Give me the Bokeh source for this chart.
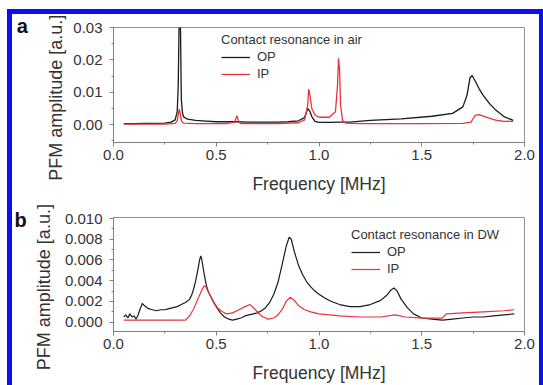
import math
from bokeh.plotting import figure
from bokeh.layouts import column
from bokeh.models import Range1d, FixedTicker, Legend, LegendItem, Label
from bokeh.embed import file_html
from bokeh.resources import INLINE

# ---------------- data: panel a (contact resonance in air) ----------------
a_op_freq = [0.05, 0.10, 0.15, 0.20, 0.25, 0.28, 0.30, 0.31, 0.315, 0.32, 0.325, 0.33, 0.335, 0.34,
             0.36, 0.40, 0.45, 0.50, 0.55, 0.60, 0.65, 0.70, 0.75, 0.80, 0.85, 0.90, 0.93, 0.945,
             0.955, 0.965, 0.98, 1.00, 1.05, 1.10, 1.15, 1.25, 1.40, 1.55, 1.65, 1.70, 1.72, 1.735,
             1.745, 1.76, 1.78, 1.80, 1.83, 1.86, 1.90, 1.945]
a_op_amp = [0.0003, 0.0003, 0.0004, 0.0004, 0.0005, 0.0008, 0.0015, 0.0040, 0.0120, 0.0350, 0.0350, 0.0080, 0.0040, 0.0025,
            0.0017, 0.0013, 0.0011, 0.0009, 0.0009, 0.0009, 0.0008, 0.0008, 0.0008, 0.0008, 0.0009, 0.0012, 0.0022, 0.0050,
            0.0042, 0.0025, 0.0010, 0.0007, 0.0007, 0.0008, 0.0008, 0.0013, 0.0018, 0.0026, 0.0035, 0.0055, 0.0090, 0.0145,
            0.0152, 0.0135, 0.0110, 0.0090, 0.0065, 0.0045, 0.0025, 0.0013]

a_ip_freq = [0.05, 0.25, 0.30, 0.31, 0.32, 0.325, 0.33, 0.34, 0.40, 0.55, 0.59, 0.60, 0.61, 0.62,
             0.80, 0.90, 0.93, 0.945, 0.95, 0.955, 0.965, 0.98, 1.00, 1.05, 1.08, 1.09, 1.095, 1.10,
             1.105, 1.115, 1.13, 1.20, 1.50, 1.70, 1.74, 1.76, 1.78, 1.82, 1.86, 1.90, 1.945]
a_ip_amp = [0.0002, 0.0002, 0.0004, 0.0012, 0.0048, 0.0035, 0.0012, 0.0005, 0.0003, 0.0003, 0.0008, 0.0028, 0.0008, 0.0003,
            0.0003, 0.0006, 0.0015, 0.0060, 0.0110, 0.0095, 0.0050, 0.0030, 0.0023, 0.0023, 0.0040, 0.0120, 0.0205, 0.0170,
            0.0060, 0.0012, 0.0005, 0.0003, 0.0003, 0.0004, 0.0008, 0.0029, 0.0031, 0.0022, 0.0014, 0.0010, 0.0010]

# ---------------- data: panel b (contact resonance in DW) ----------------
b_op_freq = [0.05, 0.06, 0.07, 0.08, 0.09, 0.10, 0.11, 0.12, 0.13, 0.14, 0.15, 0.17, 0.19, 0.21, 0.23, 0.25,
             0.27, 0.29, 0.31, 0.33, 0.35, 0.37, 0.38, 0.39, 0.40, 0.41, 0.42, 0.425, 0.43, 0.44, 0.45, 0.46,
             0.48, 0.50, 0.52, 0.54, 0.56, 0.58, 0.60, 0.62, 0.64, 0.66, 0.68, 0.70, 0.72, 0.74, 0.76, 0.78,
             0.80, 0.82, 0.84, 0.855, 0.865, 0.88, 0.90, 0.92, 0.94, 0.96, 0.98, 1.00, 1.03, 1.06, 1.10, 1.15,
             1.20, 1.25, 1.30, 1.33, 1.35, 1.365, 1.38, 1.40, 1.43, 1.46, 1.50, 1.55, 1.60, 1.65, 1.70, 1.75,
             1.80, 1.85, 1.90, 1.95]
b_op_amp = [0.0005, 0.0007, 0.0004, 0.0008, 0.0005, 0.0006, 0.0003, 0.0007, 0.0013, 0.0018, 0.0016, 0.0013, 0.0012, 0.0011, 0.0012, 0.0012,
            0.0013, 0.0014, 0.0015, 0.0017, 0.0019, 0.0022, 0.0026, 0.0032, 0.0040, 0.0050, 0.0061, 0.0064, 0.0060, 0.0048, 0.0037, 0.0030,
            0.0022, 0.0015, 0.0009, 0.0005, 0.0003, 0.0002, 0.0003, 0.0004, 0.0006, 0.0007, 0.0008, 0.0009, 0.0011, 0.0014, 0.0019, 0.0027,
            0.0038, 0.0055, 0.0073, 0.0082, 0.0080, 0.0068, 0.0055, 0.0046, 0.0039, 0.0034, 0.0030, 0.0027, 0.0023, 0.0020, 0.0017, 0.0015,
            0.0015, 0.0017, 0.0021, 0.0026, 0.0031, 0.0033, 0.0030, 0.0022, 0.0014, 0.0008, 0.0004, 0.0003, 0.0002, 0.0003, 0.0004, 0.0005,
            0.0005, 0.0006, 0.0007, 0.0008]

b_ip_freq = [0.05, 0.10, 0.20, 0.30, 0.35, 0.37, 0.39, 0.41, 0.43, 0.44, 0.45, 0.47, 0.49, 0.51, 0.53, 0.55,
             0.58, 0.61, 0.64, 0.665, 0.69, 0.72, 0.75, 0.78, 0.80, 0.82, 0.84, 0.86, 0.88, 0.90, 0.93, 0.96,
             1.00, 1.05, 1.10, 1.20, 1.30, 1.37, 1.42, 1.50, 1.60, 1.62, 1.70, 1.80, 1.90, 1.95]
b_ip_amp = [0.0002, 0.0002, 0.0002, 0.0002, 0.0002, 0.0006, 0.0013, 0.0022, 0.0031, 0.0035, 0.0034, 0.0026, 0.0018, 0.0013, 0.0010, 0.0008,
            0.0009, 0.0012, 0.0015, 0.0017, 0.0012, 0.0006, 0.0003, 0.0004, 0.0007, 0.0012, 0.0020, 0.0024, 0.0021, 0.0016, 0.0012, 0.0010,
            0.0008, 0.0007, 0.0006, 0.0005, 0.0005, 0.0007, 0.0005, 0.0004, 0.0004, 0.0008, 0.0009, 0.0010, 0.0011, 0.0012]

x_ticks = [0.0, 0.5, 1.0, 1.5, 2.0]
x_tick_labels = ["0.0", "0.5", "1.0", "1.5", "2.0"]
a_y_ticks = [0.0, 0.01, 0.02, 0.03]
a_y_tick_labels = ["0.00", "0.01", "0.02", "0.03"]
b_y_ticks = [0.0, 0.002, 0.004, 0.006, 0.008, 0.010]
b_y_tick_labels = ["0.000", "0.002", "0.004", "0.006", "0.008", "0.010"]

FONT = "Liberation Sans"
TXT = "#333333"
OP_COLOR = "#1a1a1a"
IP_COLOR = "#e8333d"
Y_LABEL = "PFM amplitude [a.u.]"
X_LABEL = "Frequency [MHz]"


def style(p, yticks, ylabels, yminor):
    p.xaxis.ticker = FixedTicker(ticks=x_ticks, minor_ticks=[0.25, 0.75, 1.25, 1.75])
    p.xaxis.major_label_overrides = {t: l for t, l in zip(x_ticks, x_tick_labels)}
    p.yaxis.ticker = FixedTicker(ticks=yticks, minor_ticks=yminor)
    p.yaxis.major_label_overrides = {t: l for t, l in zip(yticks, ylabels)}
    p.xaxis.axis_label = X_LABEL
    for ax in (p.xaxis[0], p.yaxis[0]):
        ax.axis_line_color = "#808080"
        ax.major_tick_line_color = "#808080"
        ax.minor_tick_line_color = "#808080"
        ax.major_tick_in = 0
        ax.major_tick_out = 4
        ax.minor_tick_in = 0
        ax.minor_tick_out = 2
        ax.major_label_text_font = FONT
        ax.major_label_text_font_size = "15px"
        ax.major_label_text_color = TXT
        ax.axis_label_text_font = FONT
        ax.axis_label_text_font_size = "17.5px"
        ax.axis_label_text_font_style = "normal"
        ax.axis_label_text_color = TXT
    p.xaxis.major_label_standoff = 3
    p.xaxis.axis_label_standoff = 11
    p.yaxis.major_label_standoff = 7
    p.xgrid.visible = False
    p.ygrid.visible = False
    p.outline_line_color = "#909090"
    p.outline_line_width = 1
    p.background_fill_color = "white"
    p.border_fill_color = "white"


def add_legend(p, title, r_op, r_ip, loc):
    leg = Legend(items=[LegendItem(label="OP", renderers=[r_op]),
                        LegendItem(label="IP", renderers=[r_ip])],
                 title=title, location=loc)
    leg.title_text_font = FONT
    leg.title_text_font_size = "13px"
    leg.title_text_font_style = "normal"
    leg.title_text_color = TXT
    leg.title_standoff = 2
    leg.label_text_font = FONT
    leg.label_text_font_size = "13px"
    leg.label_text_color = TXT
    leg.glyph_width = 29
    leg.glyph_height = 14
    leg.label_height = 14
    leg.label_standoff = 7
    leg.spacing = 2
    leg.padding = 0
    leg.margin = 0
    leg.border_line_color = None
    leg.background_fill_alpha = 0
    p.add_layout(leg)


def side_text(p, x, y, text, size, bold=False, angle=0.0, align="left", baseline="alphabetic"):
    # placed in the left side panel so that it is not clipped to the frame
    p.add_layout(Label(x=x, y=y, text=text, text_font=FONT, text_font_size=size,
                       text_font_style="bold" if bold else "normal",
                       text_color="#111111" if bold else TXT, angle=angle,
                       text_align=align, text_baseline=baseline), "left")


# ---------------- panel a ----------------
pa = figure(width=527, height=186, output_backend="svg", toolbar_location=None,
            x_range=Range1d(0, 2.0), y_range=Range1d(-0.0055, 0.03),
            min_border_left=100, min_border_right=15, min_border_top=13, min_border_bottom=58)
style(pa, a_y_ticks, a_y_tick_labels, [-0.005, 0.005, 0.015, 0.025])
ra_op = pa.line(a_op_freq, a_op_amp, line_color=OP_COLOR, line_width=1.3)
ra_ip = pa.line(a_ip_freq, a_ip_amp, line_color=IP_COLOR, line_width=1.3)
add_legend(pa, "Contact resonance in air", ra_op, ra_ip, (108, 61))
side_text(pa, -0.471, 0.0306, "a", "20px", bold=True)
side_text(pa, -0.279, 0.0083, Y_LABEL, "18px", angle=math.pi / 2, align="center", baseline="middle")

# ---------------- panel b ----------------
pb = figure(width=527, height=185, output_backend="svg", toolbar_location=None,
            x_range=Range1d(0, 2.0), y_range=Range1d(-0.0009, 0.0101),
            min_border_left=101, min_border_right=11, min_border_top=17, min_border_bottom=52)
style(pb, b_y_ticks, b_y_tick_labels, [0.001, 0.003, 0.005, 0.007, 0.009])
rb_op = pb.line(b_op_freq, b_op_amp, line_color=OP_COLOR, line_width=1.2)
rb_ip = pb.line(b_ip_freq, b_ip_amp, line_color=IP_COLOR, line_width=1.2)
add_legend(pb, "Contact resonance in DW", rb_op, rb_ip, (238, 55))
side_text(pb, -0.482, 0.0099, "b", "20px", bold=True)
side_text(pb, -0.340, 0.00338, Y_LABEL, "18px", angle=math.pi / 2, align="center", baseline="middle")

layout = column(pa, pb, margin=(14, 0, 0, 12), spacing=0,
                styles={"outline": "5px solid #0a10f0", "background": "white"})

open("out.html", "w").write(file_html(layout, INLINE))
